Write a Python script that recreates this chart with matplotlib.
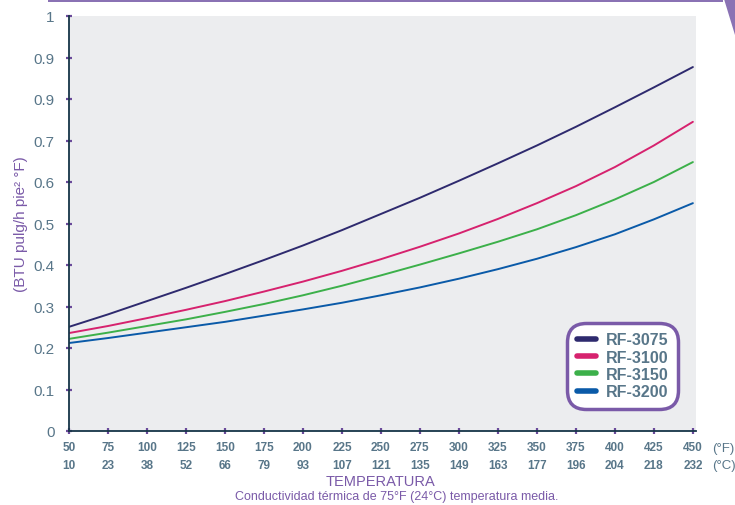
import matplotlib.pyplot as plt
from matplotlib.patches import Rectangle, Polygon

# Temperatures (°F) and equivalent (°C) tick labels
temp_f = [50, 75, 100, 125, 150, 175, 200, 225, 250, 275, 300, 325, 350, 375, 400, 425, 450]
tick_f = [50, 75, 100, 125, 150, 175, 200, 225, 250, 275, 300, 325, 350, 375, 400, 425, 450]
tick_c = [10, 23, 38, 52, 66, 79, 93, 107, 121, 135, 149, 163, 177, 196, 204, 218, 232]

# Thermal conductivity (BTU pulg/h pie² °F), read every 25 °F
rf_3075 = [0.251, 0.281, 0.313, 0.345, 0.378, 0.412, 0.447, 0.484, 0.523,
           0.562, 0.603, 0.645, 0.688, 0.733, 0.780, 0.828, 0.877]
rf_3100 = [0.236, 0.253, 0.272, 0.292, 0.313, 0.336, 0.360, 0.386, 0.414,
           0.444, 0.476, 0.511, 0.549, 0.590, 0.636, 0.688, 0.745]
rf_3150 = [0.222, 0.237, 0.253, 0.269, 0.287, 0.306, 0.327, 0.350, 0.375,
           0.401, 0.428, 0.456, 0.486, 0.520, 0.558, 0.600, 0.648]
rf_3200 = [0.212, 0.224, 0.237, 0.250, 0.263, 0.278, 0.293, 0.309, 0.327,
           0.346, 0.367, 0.390, 0.415, 0.443, 0.474, 0.510, 0.549]

y_ticks = [0, 0.1, 0.2, 0.3, 0.4, 0.5, 0.6, 0.7, 0.8, 0.9, 1.0]
y_labels = ["0", "0.1", "0.2", "0.3", "0.4", "0.5", "0.6", "0.7", "0.9", "0.9", "1"]

series = [
    ("RF-3075", rf_3075, "#2e2a6e"),
    ("RF-3100", rf_3100, "#d6226e"),
    ("RF-3150", rf_3150, "#3cb04a"),
    ("RF-3200", rf_3200, "#0a5aa8"),
]

purple = "#7a5aa8"
slate = "#587689"

plt.rcParams["font.family"] = ["Liberation Sans", "DejaVu Sans"]

fig = plt.figure(figsize=(7.35, 5.06), dpi=100)
ax = fig.add_axes([69 / 735, 74 / 506, 627 / 735, 415 / 506])
ax.set_facecolor("#ecedef")

for name, vals, col in series:
    ax.plot(temp_f, vals, color=col, lw=1.4, label=name, solid_capstyle="round")

ax.set_xlim(50, 452)
ax.set_ylim(0, 1)

ax.set_xticks(tick_f)
ax.set_xticklabels([f"{f}\n{c}" for f, c in zip(tick_f, tick_c)],
                   fontsize=8.5, fontweight="bold", color=slate, linespacing=1.6)
ax.set_yticks(y_ticks)
ax.set_yticklabels(y_labels, fontsize=11, color=slate)
ax.tick_params(axis="both", direction="inout", length=5, width=1.6, color="#6a4a9a")
ax.tick_params(axis="x", pad=5)
ax.tick_params(axis="y", pad=8)

for side in ["top", "right"]:
    ax.spines[side].set_visible(False)
for side in ["left", "bottom"]:
    ax.spines[side].set_color("#163548")
    ax.spines[side].set_linewidth(1.3)

ax.set_ylabel("(BTU pulg/h pie² °F)", fontsize=11, color=purple, labelpad=4)

fig.text(712 / 735, 1 - 449 / 506, "(°F)", fontsize=9.5, color=slate, va="center")
fig.text(712 / 735, 1 - 466 / 506, "(°C)", fontsize=9.5, color=slate, va="center")
fig.text(380 / 735, 1 - 482 / 506, "TEMPERATURA", fontsize=10.5, color=purple,
         ha="center", va="center")
fig.text(397 / 735, 1 - 497 / 506, "Conductividad térmica de 75°F (24°C) temperatura media.",
         fontsize=9, color=purple, ha="center", va="center",
         family=["Liberation Sans Narrow", "Liberation Sans"])

leg = ax.legend(loc="lower right", bbox_to_anchor=(0.971, 0.053), borderaxespad=0,
                fancybox=True, framealpha=1, handlelength=1.2, handletextpad=0.6,
                labelspacing=0.15, borderpad=0.6,
                prop={"weight": "bold", "size": 11.5})
frame = leg.get_frame()
frame.set_edgecolor(purple)
frame.set_linewidth(2.5)
frame.set_boxstyle("round", pad=0.0, rounding_size=1.2)
for h in leg.legend_handles:
    h.set_linewidth(4)
for t in leg.get_texts():
    t.set_color(slate)

# decorative top bar and right edge
fig.add_artist(Rectangle((48 / 735, 1 - 2.5 / 506), 675 / 735, 2.5 / 506,
                         transform=fig.transFigure, color="#8a72b4", lw=0))
fig.add_artist(Polygon([(724 / 735, 1), (1, 1), (1, 1 - 36 / 506)],
                       closed=True, transform=fig.transFigure,
                       color="#8a72b4", lw=0))

fig.savefig("out.png", dpi=100)
